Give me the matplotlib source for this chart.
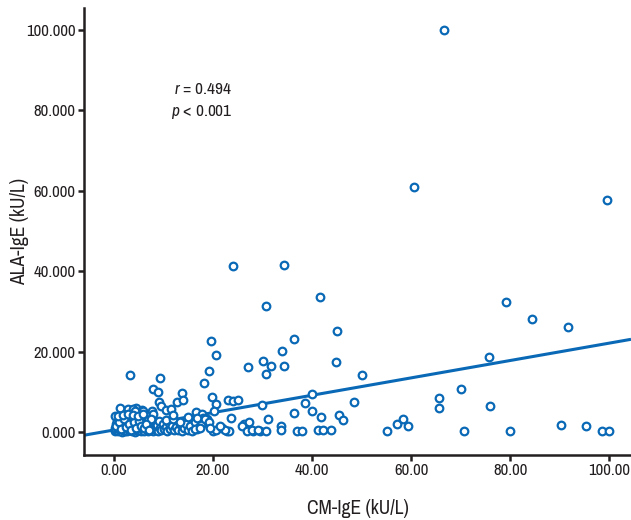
import numpy as np
import matplotlib
matplotlib.use("Agg")
import matplotlib.pyplot as plt
from matplotlib import font_manager

# CM-IgE (x) and ALA-IgE (y), kU/L
cm_ige = [
    0.2, 0.3, 0.4, 0.5, 0.6, 0.7, 0.8, 0.9, 1.0, 1.1,
    1.2, 1.3, 1.4, 1.5, 1.6, 1.7, 1.8, 1.9, 2.0, 2.1,
    2.2, 2.3, 2.4, 2.5, 2.6, 2.7, 2.8, 2.9, 3.0, 3.1,
    3.2, 3.3, 3.4, 3.5, 3.6, 3.7, 3.8, 3.9, 4.0, 4.1,
    4.2, 4.3, 4.4, 4.5, 4.6, 4.7, 4.8, 4.9, 5.0, 5.1,
    5.2, 5.3, 5.4, 5.5, 5.6, 5.7, 5.8, 5.9, 6.0, 6.1,
    6.2, 6.3, 6.5, 6.6, 6.8, 6.9, 7.0, 7.2, 7.3, 7.5,
    7.7, 7.8, 8.0, 8.2, 8.4, 8.6, 8.9, 9.1, 9.3, 9.6,
    9.9, 10.2, 10.5, 10.8, 11.1, 11.4, 11.8, 12.2, 12.6, 13.0,
    13.4, 13.8, 14.2, 14.6, 15.0, 15.4, 15.8, 16.3, 16.8, 17.2,
    1.3, 2.8, 4.4, 5.6, 0.2, 3.9, 4.2, 5.9, 7.6, 9.0,
    9.6, 10.6, 11.5, 12.7, 7.9, 7.5, 10.6, 12.0, 13.3, 16.6,
    17.7, 12.0, 15.0, 18.0, 18.8, 16.7, 17.5, 18.4,
    3.2, 9.2, 7.9, 8.8, 13.8, 13.9,
    19.6, 20.7, 19.1, 18.2, 19.7, 20.6, 23.0, 24.0, 25.1, 20.3,
    23.7, 27.0, 30.0, 31.7, 30.7, 29.8, 31.2, 26.3, 27.3, 25.8,
    24.0, 34.4, 41.7, 30.7, 45.1, 36.4, 34.0, 34.4, 44.8, 50.0,
    39.9, 38.5, 48.5, 36.4, 40.0, 41.9, 45.5, 46.3, 33.8, 33.8,
    26.8, 28.1, 29.5, 30.8, 36.9, 37.9, 41.3, 42.3, 43.8, 55.1,
    57.2, 58.3, 59.4, 19.1, 20.1, 20.7, 21.8, 22.8, 23.3, 22.4,
    27.8, 29.0, 16.4, 17.4, 19.4, 21.4,
    0.5, 1.0, 1.5, 2.0, 2.5, 3.0, 3.5, 4.0, 4.5, 5.0,
    5.5, 6.0, 6.5, 7.0, 0.8, 1.8, 2.8, 3.8, 4.8, 5.8,
    66.7, 60.6, 99.6, 79.1, 84.4, 91.6, 75.8, 70.0, 65.6, 65.6,
    76.0, 70.6, 79.9, 90.3, 95.4, 98.6, 100.0,
]
ala_ige = [
    0.3, 1.0, 2.1, 0.6, 1.6, 2.8, 0.2, 1.2, 3.4, 0.8,
    2.0, 0.4, 1.4, 2.5, 0.1, 1.0, 3.0, 0.6, 1.8, 2.4,
    0.3, 1.3, 3.8, 0.9, 2.1, 0.2, 1.6, 2.9, 0.5, 1.1,
    4.5, 2.3, 0.7, 1.5, 3.2, 0.3, 1.9, 2.7, 0.9, 1.3,
    0.1, 2.2, 3.5, 0.6, 1.7, 2.6, 0.4, 1.1, 4.0, 0.8,
    2.0, 1.4, 0.2, 3.0, 1.0, 2.4, 0.5, 1.8, 3.6, 0.3,
    1.2, 2.2, 0.7, 1.6, 2.9, 0.2, 1.0, 2.0, 0.5, 1.5,
    3.4, 0.3, 1.1, 2.3, 0.6, 1.7, 0.2, 2.8, 1.0, 0.4,
    1.9, 0.7, 1.3, 0.3, 2.2, 0.8, 1.6, 0.4, 1.2, 0.6,
    1.9, 0.3, 1.0, 2.0, 0.5, 1.4, 0.2, 2.4, 0.8, 1.2,
    6.0, 5.6, 6.0, 5.4, 4.1, 5.7, 5.1, 5.1, 5.1, 7.4,
    6.5, 5.5, 5.7, 7.5, 4.5, 3.3, 3.0, 3.2, 2.6, 5.0,
    4.4, 4.2, 3.8, 3.6, 3.2, 3.6, 1.7, 3.2,
    14.3, 13.4, 10.8, 10.0, 9.8, 8.0,
    22.7, 19.2, 15.2, 12.1, 8.6, 7.0, 7.9, 7.7, 8.0, 5.1,
    3.6, 16.2, 17.7, 16.5, 14.4, 6.6, 3.2, 1.9, 2.6, 1.6,
    41.3, 41.5, 33.5, 31.3, 25.1, 23.1, 20.1, 16.4, 17.5, 14.3,
    9.5, 7.2, 7.4, 4.8, 5.1, 3.8, 4.2, 2.9, 1.6, 0.5,
    0.3, 0.3, 0.3, 0.3, 0.3, 0.3, 0.4, 0.4, 0.5, 0.3,
    2.0, 3.2, 1.5, 2.6, 0.3, 0.5, 0.9, 0.3, 0.3, 0.4,
    0.4, 0.4, 0.8, 1.1, 1.0, 1.5,
    1.4, 2.6, 0.8, 3.2, 1.2, 2.0, 0.6, 2.4, 1.0, 2.8,
    1.6, 0.9, 2.1, 0.6, 3.9, 4.3, 4.6, 4.2, 3.9, 4.4,
    100.0, 60.9, 57.7, 32.4, 28.0, 26.0, 18.6, 10.7, 8.5, 6.0,
    6.4, 0.3, 0.2, 1.8, 1.5, 0.2, 0.2,
]

# regression line
fit_intercept = 0.5
fit_slope = 0.216

x_ticks = [0, 20, 40, 60, 80, 100]
x_ticklabels = ["0.00", "20.00", "40.00", "60.00", "80.00", "100.00"]
y_ticks = [0, 20, 40, 60, 80, 100]
y_ticklabels = ["0.000", "20.000", "40.000", "60.000", "80.000", "100.000"]

blue = "#0a69b6"
dark = "#231f20"

# pick a narrow face if one is installed, otherwise plain Liberation Sans
names = {f.name for f in font_manager.fontManager.ttflist}
narrow = [n for n in names if "Narrow" in n or "Condensed" in n]
if "Liberation Sans Narrow" in names:
    face = "Liberation Sans Narrow"
elif narrow:
    face = sorted(narrow)[0]
else:
    face = "Liberation Sans"
condensed = any(f.stretch == "condensed" for f in font_manager.fontManager.ttflist
                if f.name == face)
plt.rcParams["font.family"] = [face, "DejaVu Sans"]
plt.rcParams["font.stretch"] = "condensed" if condensed else "normal"
plt.rcParams["mathtext.fontset"] = "custom"
plt.rcParams["mathtext.it"] = face + ":italic"
plt.rcParams["mathtext.rm"] = face

fig = plt.figure(figsize=(6.31, 5.2), dpi=100)
ax = fig.add_axes([0.133, 0.125, 0.867, 0.86])

xlim = (-6.06, 104.4)
ax.set_xlim(*xlim)
ax.set_ylim(-5.72, 105.5)

xs = np.array(xlim)
ax.plot(xs, fit_intercept + fit_slope * xs, color=blue, lw=2.2, zorder=2,
        solid_capstyle="butt")

ax.scatter(cm_ige, ala_ige, s=30, facecolors="white", edgecolors=blue,
           linewidths=1.6, zorder=3)

ax.set_xticks(x_ticks)
ax.set_xticklabels(x_ticklabels)
ax.set_yticks(y_ticks)
ax.set_yticklabels(y_ticklabels)

for side in ["top", "right"]:
    ax.spines[side].set_visible(False)
for side in ["left", "bottom"]:
    ax.spines[side].set_linewidth(1.8)
    ax.spines[side].set_color(dark)
ax.tick_params(direction="out", length=4, width=1.8, color=dark,
               labelsize=12, labelcolor=dark, pad=2)

ax.set_xlabel("CM-IgE (kU/L)", fontsize=14, color=dark, labelpad=15)
ax.set_ylabel("ALA-IgE (kU/L)", fontsize=14, color=dark, labelpad=-2)

ax.text(24.0, 85.1, r"$\mathit{r}$ = 0.494", ha="right", va="center",
        fontsize=12.5, color=dark)
ax.text(24.0, 79.6, r"$\mathit{p}$ < 0.001", ha="right", va="center",
        fontsize=12.5, color=dark)

fig.savefig("out.png", dpi=100)
